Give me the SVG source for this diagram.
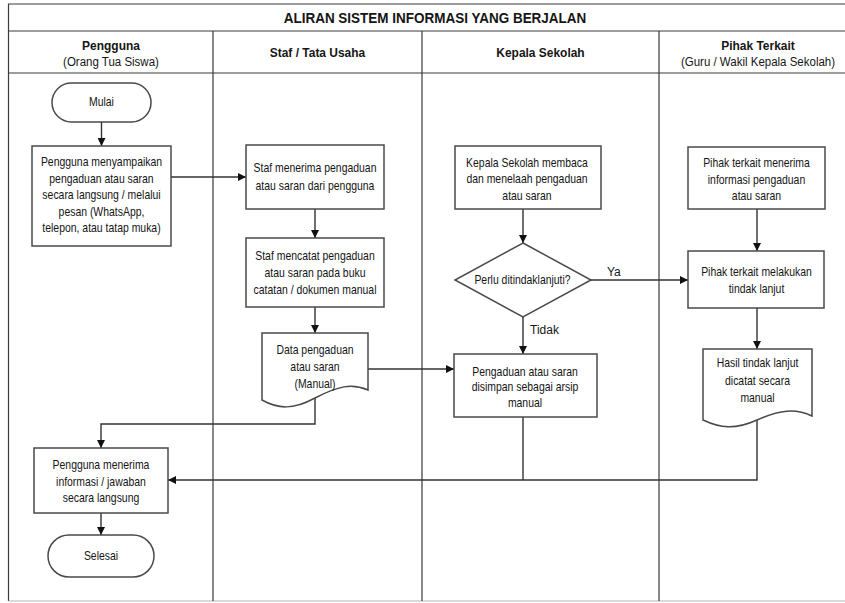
<svg xmlns="http://www.w3.org/2000/svg" width="845" height="603" viewBox="0 0 845 603">
<style>
text{font-family:"Liberation Sans",Arial,sans-serif;fill:#151515;text-anchor:middle}
.t{font-size:12px}
.h{font-size:13px;font-weight:bold}
.s{font-size:12.5px}
.ttl{font-size:15px;font-weight:bold}
.box{fill:#fff;stroke:#4a4a4a;stroke-width:1.5}
.lane{fill:none;stroke:#3a3a3a;stroke-width:1.2}
.c{fill:none;stroke:#333;stroke-width:1.4}
.lbl{font-size:12px;text-anchor:start}
</style>
<defs>
<marker id="ah" viewBox="0 0 10 10" refX="10" refY="5" markerWidth="8" markerHeight="8" markerUnits="userSpaceOnUse" orient="auto">
<path d="M0,0 L10,5 L0,10 Z" fill="#111"/>
</marker>
</defs>
<rect width="845" height="603" fill="#fff"/>
<g id="frame">
<path class="lane" d="M845,4 H8.5 V601"/>
<line x1="8.5" y1="601" x2="845" y2="601" stroke="#b5b5b5" stroke-width="1.2"/>
<line class="lane" x1="8.5" y1="31" x2="845" y2="31"/>
<line class="lane" x1="8.5" y1="73" x2="845" y2="73"/>
<line class="lane" x1="213" y1="31" x2="213" y2="601"/>
<line class="lane" x1="422" y1="31" x2="422" y2="601"/>
<line class="lane" x1="659" y1="31" x2="659" y2="601"/>
<g transform="matrix(0.9 0 0 1 43.5 0)"><text class="ttl" x="435" y="23">ALIRAN SISTEM INFORMASI YANG BERJALAN</text></g>
<g transform="matrix(0.92 0 0 1 8.88 0)"><text class="h" x="111" y="50">Pengguna</text><text class="s" x="111" y="66.5">(Orang Tua Siswa)</text></g>
<g transform="matrix(0.92 0 0 1 25.4 0)"><text class="h" x="317.5" y="57">Staf / Tata Usaha</text></g>
<g transform="matrix(0.92 0 0 1 43.24 0)"><text class="h" x="540.5" y="57">Kepala Sekolah</text></g>
<g transform="matrix(0.92 0 0 1 60.64 0)"><text class="h" x="758" y="50">Pihak Terkait</text><text class="s" x="758" y="66.5">(Guru / Wakil Kepala Sekolah)</text></g>
</g>
<g id="connectors">
<path class="c" d="M101.5,122 V146" marker-end="url(#ah)"/>
<path class="c" d="M171,177 H246" marker-end="url(#ah)"/>
<path class="c" d="M315,209 V238" marker-end="url(#ah)"/>
<path class="c" d="M315,307 V333" marker-end="url(#ah)"/>
<path class="c" d="M368,369 H454" marker-end="url(#ah)"/>
<path class="c" d="M315,398 V424 H101 V448" marker-end="url(#ah)"/>
<path class="c" d="M523,209 V243" marker-end="url(#ah)"/>
<path class="c" d="M591,280 H688" marker-end="url(#ah)"/>
<path class="c" d="M523,317 V354" marker-end="url(#ah)"/>
<path class="c" d="M757,209 V251" marker-end="url(#ah)"/>
<path class="c" d="M757,308 V349" marker-end="url(#ah)"/>
<path class="c" d="M757,420 V480 H168" marker-end="url(#ah)"/>
<path class="c" d="M523,417 V480"/>
<path class="c" d="M101,513 V535" marker-end="url(#ah)"/>
<text class="lbl" x="607" y="276">Ya</text>
<text class="lbl" x="530" y="334">Tidak</text>
</g>
<g id="mulai">
<rect class="box" x="52" y="83" width="99" height="39" rx="19.5"/>
<g transform="matrix(0.87 0 0 1 13.195 0)"><text class="t" x="101.5" y="106">Mulai</text></g>
</g>
<g id="pengguna-menyampaikan">
<rect class="box" x="32" y="146" width="139" height="100"/>
<g transform="matrix(0.87 0 0 1 13.195 0)">
<text class="t" x="101.5" y="166">Pengguna menyampaikan</text>
<text class="t" x="101.5" y="183">pengaduan atau saran</text>
<text class="t" x="101.5" y="199.5">secara langsung / melalui</text>
<text class="t" x="101.5" y="216">pesan (WhatsApp,</text>
<text class="t" x="101.5" y="232.5">telepon, atau tatap muka)</text>
</g>
</g>
<g id="staf-menerima">
<rect class="box" x="246" y="145" width="138" height="64"/>
<g transform="matrix(0.87 0 0 1 40.95 0)">
<text class="t" x="315" y="172">Staf menerima pengaduan</text>
<text class="t" x="315" y="190">atau saran dari pengguna</text>
</g>
</g>
<g id="staf-mencatat">
<rect class="box" x="246" y="238" width="138" height="69"/>
<g transform="matrix(0.87 0 0 1 40.95 0)">
<text class="t" x="315" y="260">Staf mencatat pengaduan</text>
<text class="t" x="315" y="277">atau saran pada buku</text>
<text class="t" x="315" y="294">catatan / dokumen manual</text>
</g>
</g>
<g id="data-pengaduan">
<path class="box" d="M262,333 H368 V390 C352,383 338,386 315,398 C293,410 278,409 262,400 Z"/>
<g transform="matrix(0.87 0 0 1 40.95 0)">
<text class="t" x="315" y="354">Data pengaduan</text>
<text class="t" x="315" y="371">atau saran</text>
<text class="t" x="315" y="388">(Manual)</text>
</g>
</g>
<g id="kepala-membaca">
<rect class="box" x="455" y="146" width="146" height="63"/>
<g transform="matrix(0.87 0 0 1 68.51 0)">
<text class="t" x="527" y="167">Kepala Sekolah membaca</text>
<text class="t" x="527" y="183.5">dan menelaah pengaduan</text>
<text class="t" x="527" y="200">atau saran</text>
</g>
</g>
<g id="keputusan">
<path class="box" d="M523,243 L591,280 L523,317 L455,280 Z"/>
<g transform="matrix(0.87 0 0 1 67.925 0)"><text class="t" x="522.5" y="284.5">Perlu ditindaklanjuti?</text></g>
</g>
<g id="pengaduan-arsip">
<rect class="box" x="454" y="354" width="143" height="63"/>
<g transform="matrix(0.87 0 0 1 68.25 0)">
<text class="t" x="525" y="376">Pengaduan atau saran</text>
<text class="t" x="525" y="391.5">disimpan sebagai arsip</text>
<text class="t" x="525" y="407">manual</text>
</g>
</g>
<g id="pihak-menerima">
<rect class="box" x="688" y="147" width="137" height="62"/>
<g transform="matrix(0.87 0 0 1 98.345 0)">
<text class="t" x="756.5" y="167">Pihak terkait menerima</text>
<text class="t" x="756.5" y="184">informasi pengaduan</text>
<text class="t" x="756.5" y="200.5">atau saran</text>
</g>
</g>
<g id="pihak-melakukan">
<rect class="box" x="688" y="251" width="136" height="57"/>
<g transform="matrix(0.87 0 0 1 98.345 0)">
<text class="t" x="756.5" y="276">Pihak terkait melakukan</text>
<text class="t" x="756.5" y="293">tindak lanjut</text>
</g>
</g>
<g id="hasil-tindak-lanjut">
<path class="box" d="M703,349 H812 V416 C795,408 780,410 757,420 C735,430 720,428 703,420 Z"/>
<g transform="matrix(0.87 0 0 1 98.475 0)">
<text class="t" x="757.5" y="367">Hasil tindak lanjut</text>
<text class="t" x="757.5" y="385">dicatat secara</text>
<text class="t" x="757.5" y="402">manual</text>
</g>
</g>
<g id="pengguna-menerima">
<rect class="box" x="34" y="448" width="134" height="65"/>
<g transform="matrix(0.87 0 0 1 13.13 0)">
<text class="t" x="101" y="469">Pengguna menerima</text>
<text class="t" x="101" y="486">informasi / jawaban</text>
<text class="t" x="101" y="502.5">secara langsung</text>
</g>
</g>
<g id="selesai">
<rect class="box" x="48" y="535" width="106" height="42" rx="21"/>
<g transform="matrix(0.87 0 0 1 13.13 0)"><text class="t" x="101" y="560">Selesai</text></g>
</g>
</svg>
